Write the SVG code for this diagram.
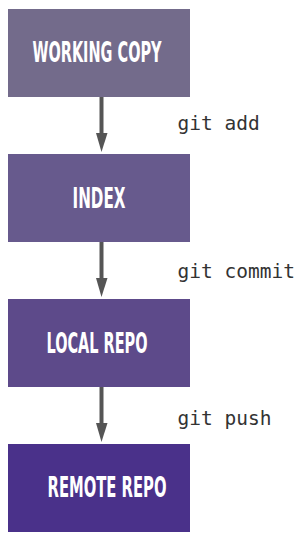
<svg xmlns="http://www.w3.org/2000/svg" width="301" height="538" viewBox="0 0 301 538">
<style>
.box{stroke:none}
.title{font-family:"DejaVu Sans Condensed","DejaVu Sans",sans-serif;font-weight:bold;font-size:27.5px;fill:#ffffff}
.lbl{font-family:"DejaVu Sans Mono","Liberation Mono",monospace;font-size:19.5px;fill:#333333}
.conn{stroke:#555555;stroke-width:4;fill:none}
.head{fill:#555555}
</style>
<rect width="301" height="538" fill="#ffffff"/>
<g id="connectors">
<line class="conn" x1="101.5" y1="97" x2="101.5" y2="135"/>
<polygon class="head" points="96,133 107.5,133 101.5,152"/>
<line class="conn" x1="101.5" y1="242" x2="101.5" y2="280"/>
<polygon class="head" points="96,278 107.5,278 101.5,297"/>
<line class="conn" x1="101.5" y1="387" x2="101.5" y2="425"/>
<polygon class="head" points="96,423 107.5,423 101.5,442"/>
<text class="lbl" x="177.5" y="130">git add</text>
<text class="lbl" x="177.5" y="277.5">git commit</text>
<text class="lbl" x="177.5" y="425">git push</text>
</g>
<g id="working-copy">
<rect class="box" x="8" y="9" width="182" height="88" fill="#736b8b"/>
<text class="title" x="32.5" y="62" textLength="129" lengthAdjust="spacingAndGlyphs">WORKING COPY</text>
</g>
<g id="index">
<rect class="box" x="8" y="154" width="182" height="88" fill="#675a8d"/>
<text class="title" x="72.5" y="208" textLength="53" lengthAdjust="spacingAndGlyphs">INDEX</text>
</g>
<g id="local-repo">
<rect class="box" x="8" y="299" width="182" height="88" fill="#5d4a8a"/>
<text class="title" x="46.5" y="353" textLength="101" lengthAdjust="spacingAndGlyphs">LOCAL REPO</text>
</g>
<g id="remote-repo">
<rect class="box" x="8" y="444" width="182" height="88" fill="#4a318a"/>
<text class="title" x="47.5" y="497" textLength="119" lengthAdjust="spacingAndGlyphs">REMOTE REPO</text>
</g>
</svg>
